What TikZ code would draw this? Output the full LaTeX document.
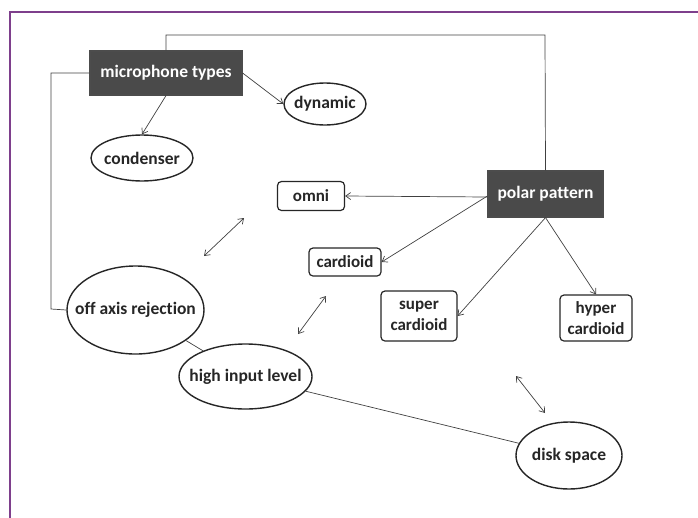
\documentclass[tikz,border=0pt]{standalone}
\usepackage{fontspec}
\setmainfont{Carlito}[BoldFont={Carlito Bold},RawFeature={-liga}]
\usetikzlibrary{shapes.geometric,arrows.meta}
\definecolor{framepurple}{HTML}{7E3F8C}
\definecolor{darkbox}{HTML}{4A4A4A}
\definecolor{linegray}{HTML}{404040}
\newcommand{\zw}[1]{\makebox[0pt]{#1}}
\begin{document}
\begin{tikzpicture}[x=1pt,y=-1pt,
  every node/.style={font=\bfseries\fontsize{17.5}{20}\selectfont, text=black!85},
  darkbox/.style={draw=black!70, line width=1.2pt, fill=darkbox, text=white, minimum width=152pt, minimum height=44pt, inner sep=2pt},
  oval/.style={ellipse, draw=black!85, line width=1.4pt, fill=white, inner sep=0pt},
  rbox/.style={rounded corners=4pt, draw=black!85, line width=1.2pt, fill=white, inner sep=2pt, align=center, font=\bfseries\fontsize{17}{21}\selectfont},
  conn/.style={draw=linegray, line width=0.7pt},
  arr/.style={conn, -{Straight Barb[length=5pt,width=7pt]}},
  darr/.style={conn, {Straight Barb[length=5pt,width=7pt]}-{Straight Barb[length=5pt,width=7pt]}}
]
\useasboundingbox (0,0) rectangle (698,517);
\begin{scope}
\clip (0,0) rectangle (698,517);
\draw[framepurple, line width=1.3pt] (10,12) rectangle (720,540);
\end{scope}

\node[darkbox] (mic) at (166,73) {microphone types};
\node[darkbox, minimum width=115pt, minimum height=46pt] (polar) at (545.5,194) {polar pattern};
\node[oval, minimum width=82pt, minimum height=42pt] (dyn) at (325,104) {\zw{dynamic}};
\node[oval, minimum width=102pt, minimum height=46pt] (cond) at (142,158) {\zw{condenser}};
\node[rbox, minimum width=67pt, minimum height=29pt] (omni) at (311,196) {omni};
\node[rbox, minimum width=72pt, minimum height=28pt] (card) at (345,262) {cardioid};
\node[rbox, minimum width=76pt, minimum height=50pt] (super) at (419,316) {super\\cardioid};
\node[rbox, minimum width=72pt, minimum height=46pt] (hyper) at (596,318) {hyper\\cardioid};
\node[oval, minimum width=137pt, minimum height=88pt] (off) at (135.5,310) {\zw{off axis rejection}};
\node[oval, minimum width=133pt, minimum height=65pt] (high) at (245.5,376.5) {\zw{high input level}};
\node[oval, minimum width=106pt, minimum height=67pt] (disk) at (569,455.5) {\zw{disk space}};

\coordinate (c1) at (166,35);
\coordinate (c2) at (545,35);
\coordinate (c3) at (51,73);
\coordinate (c4) at (51,309);
\draw[conn] (mic.north) -- (c1) -- (c2) -- (polar.north);
\draw[conn] (mic.west) -- (c3) -- (c4) -- (off.west);

\draw[arr] (mic.east) -- (dyn.west);
\draw[arr] (mic.south) -- (cond.north);
\draw[arr] ([yshift=-3pt]polar.west) -- (omni.east);
\draw[arr] ([yshift=-2pt]polar.west) -- (card.east);
\draw[arr] (polar.south) -- (super.east);
\draw[arr] (polar.south) -- (hyper.north);

\draw[conn] (off) -- (high);
\draw[conn] (high) -- (disk);

\coordinate (d1a) at (244,218); \coordinate (d1b) at (204,256);
\coordinate (d2a) at (326,296); \coordinate (d2b) at (298,334);
\coordinate (d3a) at (516,376); \coordinate (d3b) at (545,413);
\draw[darr] (d1a) -- (d1b);
\draw[darr] (d2a) -- (d2b);
\draw[darr] (d3a) -- (d3b);
\end{tikzpicture}
\end{document}
